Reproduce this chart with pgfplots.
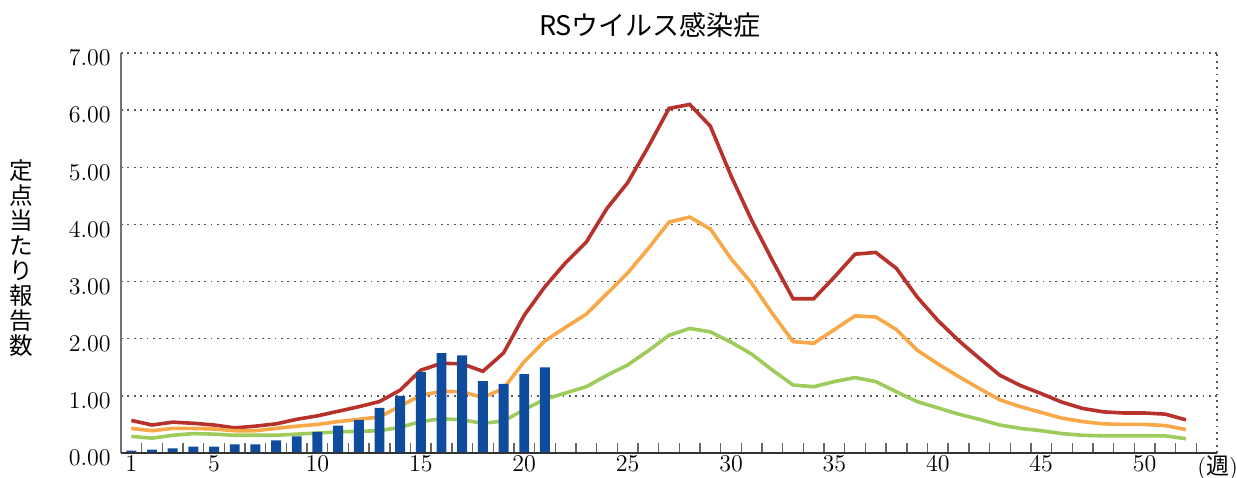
\documentclass[border=0pt]{standalone}
\usepackage{fontspec}
\usepackage{pgfplots}
\pgfplotsset{compat=1.18}
\newfontfamily\cjk{Noto Sans CJK JP}
\definecolor{cred}{HTML}{B7322A}
\definecolor{corange}{HTML}{F8A848}
\definecolor{cgreen}{HTML}{9DCC5C}
\definecolor{cblue}{HTML}{0F4C9E}
\definecolor{cgrid}{HTML}{555555}
\begin{document}
\begin{tikzpicture}
\path[use as bounding box] (-60.5pt,-12pt) rectangle (558pt,226.5pt);
\begin{axis}[
  at={(0,0)}, anchor=south west,
  scale only axis, width=548pt, height=200pt,
  xmin=0.5, xmax=53.5, ymin=0, ymax=7,
  axis line style={draw=none},
  xtick={1,5,10,15,20,25,30,35,40,45,50},
  minor xtick={1.5,2.5,...,52.5},
  ytick={0,1,...,7},
  major tick length=0pt, minor tick length=5pt,
  tick align=inside, xtick pos=bottom, ytick pos=left,
  minor x tick style={color=black!60, line width=0.7pt},
  ymajorgrids,
  major y grid style={color=cgrid, line width=0.7pt, dash pattern=on 0.9pt off 2.3pt},
  tick label style={font=\fontsize{11.5}{13}\selectfont},
  x tick label style={yshift=2pt},
  y tick label style={/pgf/number format/.cd, fixed, fixed zerofill, precision=2, /tikz/.cd, anchor=east, xshift=-1.7pt, yshift=-2.5pt},
  clip=false,
]
\addplot[color=cred, line width=1.8pt] coordinates {
(1,0.57)(2,0.49)(3,0.54)(4,0.52)(5,0.49)(6,0.44)(7,0.47)(8,0.51)(9,0.59)(10,0.65)
(11,0.73)(12,0.81)(13,0.90)(14,1.10)(15,1.45)(16,1.57)(17,1.56)(18,1.43)(19,1.75)(20,2.41)
(21,2.91)(22,3.33)(23,3.69)(24,4.28)(25,4.73)(26,5.36)(27,6.03)(28,6.10)(29,5.72)(30,4.85)
(31,4.07)(32,3.37)(33,2.70)(34,2.70)(35,3.08)(36,3.48)(37,3.51)(38,3.23)(39,2.73)(40,2.32)
(41,1.97)(42,1.66)(43,1.36)(44,1.18)(45,1.04)(46,0.89)(47,0.78)(48,0.72)(49,0.70)(50,0.70)
(51,0.68)(52,0.58)};
\addplot[color=corange, line width=1.8pt] coordinates {
(1,0.43)(2,0.39)(3,0.43)(4,0.43)(5,0.42)(6,0.39)(7,0.39)(8,0.43)(9,0.47)(10,0.50)
(11,0.55)(12,0.59)(13,0.63)(14,0.82)(15,1.01)(16,1.08)(17,1.07)(18,0.97)(19,1.13)(20,1.60)
(21,1.96)(22,2.20)(23,2.43)(24,2.79)(25,3.15)(26,3.58)(27,4.04)(28,4.13)(29,3.92)(30,3.40)
(31,2.97)(32,2.44)(33,1.95)(34,1.92)(35,2.16)(36,2.40)(37,2.38)(38,2.16)(39,1.80)(40,1.56)
(41,1.34)(42,1.13)(43,0.93)(44,0.81)(45,0.71)(46,0.61)(47,0.55)(48,0.51)(49,0.50)(50,0.50)
(51,0.48)(52,0.41)};
\addplot[color=cgreen, line width=1.8pt] coordinates {
(1,0.29)(2,0.26)(3,0.31)(4,0.34)(5,0.33)(6,0.31)(7,0.31)(8,0.31)(9,0.33)(10,0.35)
(11,0.37)(12,0.38)(13,0.39)(14,0.45)(15,0.55)(16,0.60)(17,0.58)(18,0.52)(19,0.56)(20,0.76)
(21,0.94)(22,1.05)(23,1.16)(24,1.36)(25,1.54)(26,1.79)(27,2.06)(28,2.18)(29,2.12)(30,1.94)
(31,1.73)(32,1.45)(33,1.19)(34,1.16)(35,1.25)(36,1.32)(37,1.25)(38,1.07)(39,0.90)(40,0.79)
(41,0.68)(42,0.59)(43,0.49)(44,0.43)(45,0.39)(46,0.34)(47,0.31)(48,0.30)(49,0.30)(50,0.30)
(51,0.30)(52,0.25)};
\addplot[ybar, bar width=0.48, bar shift=0pt, fill=cblue, draw=none] coordinates {
(1,0.04)(2,0.06)(3,0.08)(4,0.11)(5,0.11)(6,0.15)(7,0.15)(8,0.22)(9,0.29)(10,0.37)
(11,0.48)(12,0.58)(13,0.79)(14,1.00)(15,1.42)(16,1.75)(17,1.71)(18,1.26)(19,1.21)(20,1.38)
(21,1.50)};
\draw[color=black!55, line width=1pt] (rel axis cs:0,0) -- (rel axis cs:0,1);
\draw[color=cgrid, line width=0.7pt, dash pattern=on 0.9pt off 2.3pt] (rel axis cs:1,0) -- (rel axis cs:1,1);
\draw[color=black!80, line width=0.8pt] (rel axis cs:0,0) -- (rel axis cs:1,0);
\end{axis}
\node[inner sep=0pt, font=\cjk\fontsize{13.5}{16}\selectfont] at (264.5pt,214pt) {RSウイルス感染症};
\node[inner sep=0pt, align=center, font=\cjk\fontsize{11.8}{12.5}\selectfont] at (-49.75pt,97.5pt) {定\\点\\当\\た\\り\\報\\告\\数};
\node[inner sep=0pt, anchor=west, font=\fontsize{11.5}{13}\selectfont] at (538pt,-7.5pt) {({\cjk 週})};
\end{tikzpicture}
\end{document}
